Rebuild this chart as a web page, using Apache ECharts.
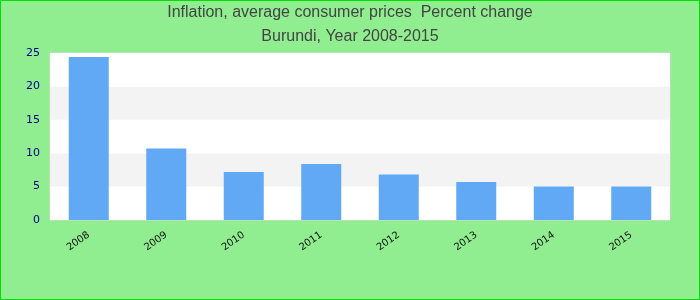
<!DOCTYPE html>
<html><head><meta charset="utf-8">
<script src="https://cdn.jsdelivr.net/npm/echarts@6/dist/echarts.min.js"></script>
<style>html,body{margin:0;padding:0;}#c{width:700px;height:300px;box-sizing:border-box;border:1px solid #00e000;}</style>
</head><body><div id="c"></div>
<script>
const categories = ['2008','2009','2010','2011','2012','2013','2014','2015'];
const values = [24.4, 10.7, 7.2, 8.4, 6.8, 5.7, 5.0, 5.0];
const titleLines = ['Inflation, average consumer prices  Percent change', 'Burundi, Year 2008-2015'];

const chart = echarts.init(document.getElementById('c'));
chart.setOption({
  backgroundColor: '#90ee90',
  animation: false,
  title: {
    text: titleLines.join('\n'),
    left: 'center', top: 0, padding: 0,
    textStyle: { fontFamily: 'Liberation Sans, Arial', fontSize: 16, fontWeight: 'normal', color: '#444', lineHeight: 24 }
  },
  grid: { left: 49, right: 29, top: 52, bottom: 79, show: true, borderColor: '#d8d8d8', borderWidth: 1, backgroundColor: '#fff' },
  xAxis: {
    type: 'category', data: categories,
    axisLine: { show: false }, axisTick: { show: false },
    axisLabel: { rotate: 35, color: '#111', fontSize: 10, fontFamily: 'DejaVu Sans', margin: 14 }
  },
  yAxis: {
    type: 'value', min: 0, max: 25, interval: 5,
    axisLine: { show: false }, axisTick: { show: false },
    splitLine: { show: false },
    splitArea: { show: true, areaStyle: { color: ['#ffffff', '#f3f3f3'] } },
    axisLabel: { color: '#00008b', fontSize: 11, fontFamily: 'DejaVu Sans', margin: 10 }
  },
  series: [{ type: 'bar', data: values, barWidth: 40, itemStyle: { color: '#61a8f5' } }]
});
</script></body></html>
